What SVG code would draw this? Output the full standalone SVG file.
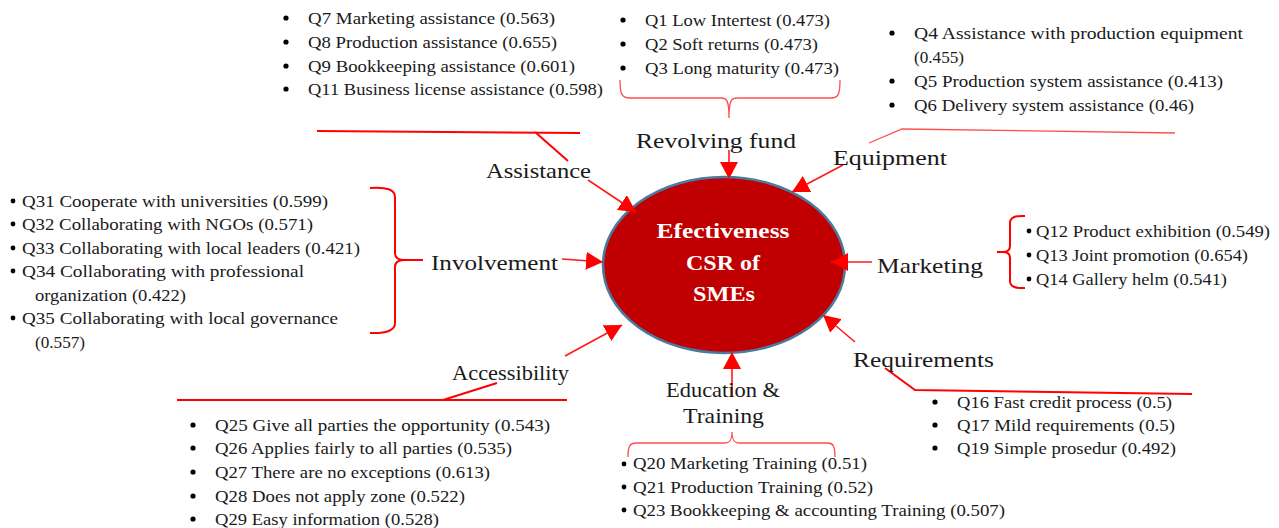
<svg xmlns="http://www.w3.org/2000/svg" width="1279" height="528" viewBox="0 0 1279 528">
<defs>
<style>
.q{font-family:"Liberation Serif",serif;font-size:17px;fill:#1a1a1a}
.l{font-family:"Liberation Serif",serif;font-size:21.5px;fill:#1a1a1a}
.c{font-family:"Liberation Serif",serif;font-size:21px;font-weight:bold;fill:#fff;text-anchor:middle}
.b{fill:#000}
.ar{stroke:#ff1a1a;stroke-width:1.6;fill:none;marker-end:url(#ah)}
.thick{stroke:#ff0000;stroke-width:2;fill:none}
.thin{stroke:#ff4d4d;stroke-width:1.3;fill:none}
</style>
<marker id="ah" markerUnits="userSpaceOnUse" markerWidth="18" markerHeight="18" refX="17" refY="9" orient="auto">
<path d="M0,0 L17,9 L0,18 z" fill="#ff0000"/>
</marker>
</defs>
<rect width="1279" height="528" fill="#fff"/>

<g id="center">
<ellipse cx="724" cy="265" rx="121" ry="88" fill="#c00000" stroke="#4a7aa0" stroke-width="2.5"/>
<text class="c" x="723" y="238" textLength="133" lengthAdjust="spacingAndGlyphs">Efectiveness</text>
<text class="c" x="723" y="270" textLength="74" lengthAdjust="spacingAndGlyphs">CSR of</text>
<text class="c" x="724" y="301" textLength="62" lengthAdjust="spacingAndGlyphs">SMEs</text>
</g>

<g id="connectors">
<path class="ar" d="M588,180 L636,212"/>
<path class="ar" d="M729,150 L729,179"/>
<path class="ar" d="M843,165 L792,192"/>
<path class="ar" d="M562,259 L603,262"/>
<path class="ar" d="M872,262 L831,262"/>
<path class="ar" d="M855,342 L823,315"/>
<path class="ar" d="M732,397 L732,352"/>
<path class="ar" d="M565,356 L622,325"/>
<path class="thin" d="M620,80 C620,95 622,98 630,98 L721,98 C727,98 729,101 729,118 C729,101 731,98 737,98 L831,98 C838,98 840,95 840,80"/>
<path class="thin" d="M628,457 C628,446 630,443 636,443 L725,443 C730,443 732,440 732,432 C732,440 734,443 739,443 L828,443 C833,443 835,446 835,457"/>
<path class="thick" d="M370,188 Q395,186 395,197 L395,253 Q395,260 404,260 L423,260 M404,260 Q395,260 395,267 L395,323 Q395,334 370,333"/>
<path class="thick" d="M1025,216 Q1010,215 1010,223 L1010,246 Q1010,252 1003,252 L997,252 M1003,252 Q1010,252 1010,258 L1010,281 Q1010,289 1025,288"/>
<path class="thick" d="M317,131 L580,133 M535,132 L568,161"/>
<path class="thin" d="M869,143 L902,129 L1175,133"/>
<path class="thick" d="M885,368 L915,390 L1192,394"/>
<path class="thick" d="M177,400 L567,400 M443,400 L497,383"/>
</g>

<g id="assistance">
<text class="l" x="486" y="178" textLength="105" lengthAdjust="spacingAndGlyphs">Assistance</text>
<circle class="b" cx="286" cy="18" r="2.6"/><circle class="b" cx="286" cy="42" r="2.6"/><circle class="b" cx="286" cy="66" r="2.6"/><circle class="b" cx="286" cy="89" r="2.6"/>
<text class="q" x="308" y="23.5" textLength="247" lengthAdjust="spacingAndGlyphs">Q7 Marketing assistance (0.563)</text>
<text class="q" x="308" y="47.5" textLength="249" lengthAdjust="spacingAndGlyphs">Q8 Production assistance (0.655)</text>
<text class="q" x="308" y="71.5" textLength="267" lengthAdjust="spacingAndGlyphs">Q9 Bookkeeping assistance (0.601)</text>
<text class="q" x="308" y="94.5" textLength="295" lengthAdjust="spacingAndGlyphs">Q11 Business license assistance (0.598)</text>
</g>

<g id="revolving">
<text class="l" x="636" y="148" textLength="160" lengthAdjust="spacingAndGlyphs">Revolving fund</text>
<circle class="b" cx="623" cy="20" r="2.6"/><circle class="b" cx="623" cy="44" r="2.6"/><circle class="b" cx="623" cy="68" r="2.6"/>
<text class="q" x="645" y="25.5" textLength="185" lengthAdjust="spacingAndGlyphs">Q1 Low Intertest (0.473)</text>
<text class="q" x="645" y="49.5" textLength="173" lengthAdjust="spacingAndGlyphs">Q2 Soft returns (0.473)</text>
<text class="q" x="645" y="73.5" textLength="194" lengthAdjust="spacingAndGlyphs">Q3 Long maturity (0.473)</text>
</g>

<g id="equipment">
<text class="l" x="833" y="165" textLength="114" lengthAdjust="spacingAndGlyphs">Equipment</text>
<circle class="b" cx="892" cy="33" r="2.6"/><circle class="b" cx="892" cy="81" r="2.6"/><circle class="b" cx="892" cy="105" r="2.6"/>
<text class="q" x="914" y="38.5" textLength="329" lengthAdjust="spacingAndGlyphs">Q4 Assistance with production equipment</text>
<text class="q" x="914" y="62.5" textLength="50" lengthAdjust="spacingAndGlyphs">(0.455)</text>
<text class="q" x="914" y="86.5" textLength="309" lengthAdjust="spacingAndGlyphs">Q5 Production system assistance (0.413)</text>
<text class="q" x="914" y="110.5" textLength="280" lengthAdjust="spacingAndGlyphs">Q6 Delivery system assistance (0.46)</text>
</g>

<g id="involvement">
<text class="l" x="431" y="270" textLength="127" lengthAdjust="spacingAndGlyphs">Involvement</text>
<circle class="b" cx="13" cy="201" r="2.4"/><circle class="b" cx="13" cy="224" r="2.4"/><circle class="b" cx="13" cy="248" r="2.4"/><circle class="b" cx="13" cy="271" r="2.4"/><circle class="b" cx="13" cy="318" r="2.4"/>
<text class="q" x="22" y="206.5" textLength="306" lengthAdjust="spacingAndGlyphs">Q31 Cooperate with universities (0.599)</text>
<text class="q" x="22" y="229.5" textLength="291" lengthAdjust="spacingAndGlyphs">Q32 Collaborating with NGOs (0.571)</text>
<text class="q" x="22" y="253.5" textLength="338" lengthAdjust="spacingAndGlyphs">Q33 Collaborating with local leaders (0.421)</text>
<text class="q" x="22" y="276.5" textLength="282" lengthAdjust="spacingAndGlyphs">Q34 Collaborating with professional</text>
<text class="q" x="35" y="300.5" textLength="151" lengthAdjust="spacingAndGlyphs">organization (0.422)</text>
<text class="q" x="22" y="323.5" textLength="316" lengthAdjust="spacingAndGlyphs">Q35 Collaborating with local governance</text>
<text class="q" x="35" y="347.5" textLength="50" lengthAdjust="spacingAndGlyphs">(0.557)</text>
</g>

<g id="marketing">
<text class="l" x="877" y="273" textLength="106" lengthAdjust="spacingAndGlyphs">Marketing</text>
<circle class="b" cx="1029" cy="231" r="2.4"/><circle class="b" cx="1029" cy="255" r="2.4"/><circle class="b" cx="1029" cy="279" r="2.4"/>
<text class="q" x="1036" y="236.5" textLength="234" lengthAdjust="spacingAndGlyphs">Q12 Product exhibition (0.549)</text>
<text class="q" x="1036" y="260.5" textLength="212" lengthAdjust="spacingAndGlyphs">Q13 Joint promotion (0.654)</text>
<text class="q" x="1036" y="284.5" textLength="191" lengthAdjust="spacingAndGlyphs">Q14 Gallery helm (0.541)</text>
</g>

<g id="requirements">
<text class="l" x="853" y="367" textLength="141" lengthAdjust="spacingAndGlyphs">Requirements</text>
<circle class="b" cx="935" cy="402" r="2.6"/><circle class="b" cx="935" cy="425" r="2.6"/><circle class="b" cx="935" cy="448" r="2.6"/>
<text class="q" x="957" y="407.5" textLength="215" lengthAdjust="spacingAndGlyphs">Q16 Fast credit process (0.5)</text>
<text class="q" x="957" y="430.5" textLength="218" lengthAdjust="spacingAndGlyphs">Q17 Mild requirements (0.5)</text>
<text class="q" x="957" y="453.5" textLength="219" lengthAdjust="spacingAndGlyphs">Q19 Simple prosedur (0.492)</text>
</g>

<g id="education">
<text class="l" x="666" y="397" textLength="114" lengthAdjust="spacingAndGlyphs">Education &amp;</text>
<text class="l" x="683" y="423" textLength="81" lengthAdjust="spacingAndGlyphs">Training</text>
<circle class="b" cx="624" cy="464" r="2.4"/><circle class="b" cx="624" cy="487" r="2.4"/><circle class="b" cx="624" cy="510" r="2.4"/>
<text class="q" x="633" y="468.5" textLength="234" lengthAdjust="spacingAndGlyphs">Q20 Marketing Training (0.51)</text>
<text class="q" x="633" y="492.5" textLength="240" lengthAdjust="spacingAndGlyphs">Q21 Production Training (0.52)</text>
<text class="q" x="633" y="515.5" textLength="372" lengthAdjust="spacingAndGlyphs">Q23 Bookkeeping &amp; accounting Training (0.507)</text>
</g>

<g id="accessibility">
<text class="l" x="452" y="380" textLength="117" lengthAdjust="spacingAndGlyphs">Accessibility</text>
<circle class="b" cx="193" cy="425" r="2.6"/><circle class="b" cx="193" cy="448" r="2.6"/><circle class="b" cx="193" cy="472" r="2.6"/><circle class="b" cx="193" cy="496" r="2.6"/><circle class="b" cx="193" cy="519" r="2.6"/>
<text class="q" x="215" y="430.5" textLength="335" lengthAdjust="spacingAndGlyphs">Q25 Give all parties the opportunity (0.543)</text>
<text class="q" x="215" y="453.5" textLength="297" lengthAdjust="spacingAndGlyphs">Q26 Applies fairly to all parties (0.535)</text>
<text class="q" x="215" y="477.5" textLength="275" lengthAdjust="spacingAndGlyphs">Q27 There are no exceptions (0.613)</text>
<text class="q" x="215" y="501.5" textLength="250" lengthAdjust="spacingAndGlyphs">Q28 Does not apply zone (0.522)</text>
<text class="q" x="215" y="524.5" textLength="224" lengthAdjust="spacingAndGlyphs">Q29 Easy information (0.528)</text>
</g>
</svg>
